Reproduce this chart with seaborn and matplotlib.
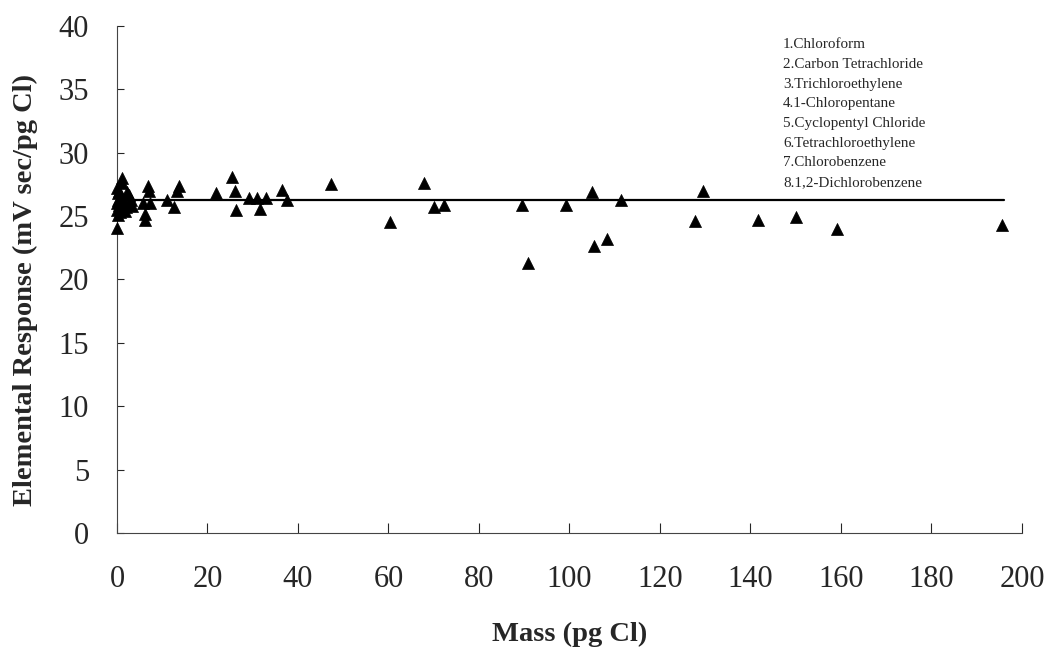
import matplotlib
matplotlib.use("Agg")
import matplotlib.pyplot as plt
import seaborn as sns
import pandas as pd

# Data
mass = [0.0, 0.1, 0.3, 0.2, 0.5, 0.1, 0.3, 0.8, 1.5, 2.0, 1.8, 2.2, 1.2, 1.2,
        2.6, 3.0, 3.4, 0.0, 0.4, 0.6,
        6.8, 7.1, 5.8, 7.3, 6.2, 6.2, 13.8, 13.3, 11.0, 12.6,
        21.9, 25.4, 26.1, 26.3, 29.2, 30.9, 31.5, 32.9, 36.5, 37.6,
        47.3, 60.3, 67.8, 70.1, 72.3, 89.4, 90.8, 99.2, 105.0, 105.4,
        108.4, 111.3, 127.7, 129.6, 141.7, 150.0, 159.2, 195.5]
response = [24.05, 27.2, 26.8, 26.3, 25.9, 25.5, 25.1, 26.5, 26.2, 25.7, 25.4, 26.9, 28.0, 27.6,
            26.7, 26.3, 25.8, 26.0, 27.0, 25.3,
            27.4, 27.0, 26.0, 26.0, 25.2, 24.7, 27.4, 27.0, 26.3, 25.7,
            26.8, 28.05, 27.0, 25.5, 26.45, 26.45, 25.6, 26.4, 27.05, 26.3,
            27.5, 24.5, 27.6, 25.7, 25.9, 25.9, 21.3, 25.9, 26.9, 22.66,
            23.2, 26.3, 24.6, 27.0, 24.7, 24.9, 24.0, 24.3]

fit_x = [0.0, 196.0]
fit_y = [26.25, 26.25]

compounds = ["1.Chloroform", "2.Carbon Tetrachloride", "3.Trichloroethylene",
             "4.1-Chloropentane", "5.Cyclopentyl Chloride", "6.Tetrachloroethylene",
             "7.Chlorobenzene", "8.1,2-Dichlorobenzene"]

x_ticks = list(range(0, 201, 20))
y_ticks = list(range(0, 41, 5))

df = pd.DataFrame({"Mass": mass, "Response": response})

sns.set_style("ticks")
plt.rcParams["font.family"] = ["Liberation Serif", "DejaVu Serif"]

fig = plt.figure(figsize=(10.5, 6.56), dpi=100)
ax = fig.add_axes([0.1114, 0.1875, 0.8619, 0.7729])

sns.scatterplot(data=df, x="Mass", y="Response", marker="^", color="black",
                s=75, edgecolor="black", linewidth=0.5, ax=ax, zorder=3, clip_on=False)
ax.plot(fit_x, fit_y, color="black", linewidth=1.6, zorder=2)

ax.set_xlim(0, 200)
ax.set_ylim(0, 40)
ax.set_xticks(x_ticks)
ax.set_yticks(y_ticks)
ax.tick_params(axis="x", direction="in", length=7, width=0.8, pad=23, labelsize=22)
ax.tick_params(axis="y", direction="in", length=5, width=0.8, pad=20, labelsize=22)
for s in ["top", "right"]:
    ax.spines[s].set_visible(False)
for s in ["left", "bottom"]:
    ax.spines[s].set_linewidth(0.8)
    ax.spines[s].set_color("#444444")

ax.set_xlabel("Mass (pg Cl)", fontsize=20.5, fontweight="bold", labelpad=20)
ax.set_ylabel("Elemental Response (mV sec/pg Cl)", fontsize=20.5, fontweight="bold")
ax.yaxis.set_label_coords(-0.087, 0.48)

y0 = 45
for i, name in enumerate(compounds):
    fig.text(783 / 1050, 1 - (y0 + i * 19.6) / 656, name, fontsize=10.9,
             ha="left", va="center")

fig.savefig("out.png", dpi=100)
